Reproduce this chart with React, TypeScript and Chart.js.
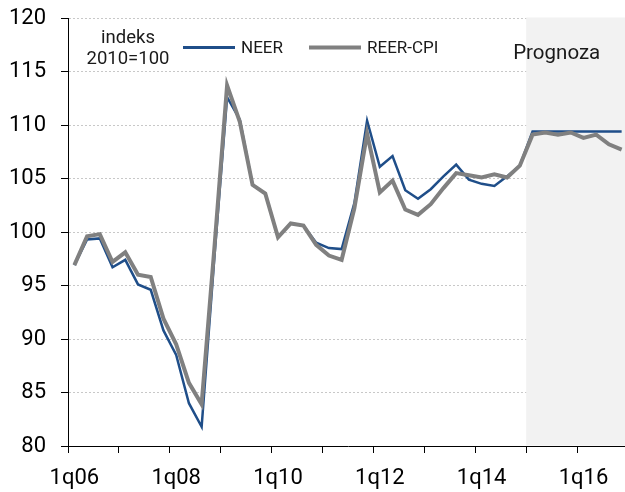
import React, { useEffect, useRef } from 'react';
import { Chart, registerables } from 'chart.js';

Chart.register(...registerables);

const categories = [
  '1q06', '2q06', '3q06', '4q06', '1q07', '2q07', '3q07', '4q07',
  '1q08', '2q08', '3q08', '4q08', '1q09', '2q09', '3q09', '4q09',
  '1q10', '2q10', '3q10', '4q10', '1q11', '2q11', '3q11', '4q11',
  '1q12', '2q12', '3q12', '4q12', '1q13', '2q13', '3q13', '4q13',
  '1q14', '2q14', '3q14', '4q14', '1q15', '2q15', '3q15', '4q15',
  '1q16', '2q16', '3q16', '4q16',
];

const neer = [
  96.9, 99.3, 99.4, 96.7, 97.4, 95.1, 94.6, 90.8,
  88.5, 84.0, 81.8, 97.6, 112.6, 110.5, 104.4, 103.6,
  99.5, 100.8, 100.6, 99.0, 98.5, 98.4, 102.7, 110.4,
  106.1, 107.1, 103.9, 103.1, 104.0, 105.2, 106.3, 104.9,
  104.5, 104.3, 105.2, 106.2, 109.4, 109.4, 109.4, 109.4,
  109.4, 109.4, 109.4, 109.4,
];

const reerCpi = [
  96.9, 99.6, 99.8, 97.2, 98.1, 96.0, 95.8, 91.9,
  89.5, 85.9, 83.9, 98.5, 113.7, 110.3, 104.4, 103.6,
  99.5, 100.8, 100.6, 98.8, 97.8, 97.4, 102.2, 109.2,
  103.7, 104.8, 102.1, 101.6, 102.6, 104.1, 105.5, 105.3,
  105.1, 105.4, 105.1, 106.2, 109.1, 109.3, 109.1, 109.3,
  108.8, 109.1, 108.2, 107.7,
];

const seriesNames = ['NEER', 'REER-CPI'];
const seriesColors = ['#1f4e89', '#808080'];
const seriesWidths = [2.5, 4];
const yMin = 80;
const yMax = 120;
const yStep = 5;
const forecastStart = '1q15';
const forecastLabel = 'Prognoza';
const noteLines = ['indeks', '2010=100'];

const FONT = "Roboto, 'Liberation Sans', sans-serif";

const forecastPlugin = {
  id: 'forecastShade',
  beforeDatasetsDraw(chart: any) {
    const { ctx, chartArea, scales } = chart;
    const x = scales.x;
    const dy = chartArea.top - 18;
    const i = categories.indexOf(forecastStart);
    const left = (x.getPixelForValue(i) + x.getPixelForValue(i - 1)) / 2;
    ctx.save();
    ctx.fillStyle = '#f2f2f2';
    ctx.fillRect(left, chartArea.top - 0.5, chartArea.right - left + 10, chartArea.bottom - chartArea.top);
    ctx.fillStyle = '#1a1a1a';
    ctx.font = `20.5px ${FONT}`;
    ctx.textAlign = 'left';
    ctx.textBaseline = 'alphabetic';
    ctx.fillText(forecastLabel, left - 13, 59 + dy);
    ctx.restore();
  },
};

const legendPlugin = {
  id: 'customLegend',
  afterDraw(chart: any) {
    const { ctx, chartArea } = chart;
    const dy = chartArea.top - 18;
    ctx.save();
    ctx.fillStyle = '#1a1a1a';
    ctx.font = `18.5px ${FONT}`;
    ctx.textAlign = 'center';
    ctx.textBaseline = 'alphabetic';
    ctx.fillText(noteLines[0], 128, 42.5 + dy);
    ctx.fillText(noteLines[1], 128, 64 + dy);
    const lineStarts = [183, 309];
    ctx.font = `17px ${FONT}`;
    ctx.textAlign = 'left';
    seriesNames.forEach((name, k) => {
      const x0 = lineStarts[k];
      ctx.strokeStyle = seriesColors[k];
      ctx.lineWidth = k === 0 ? 3 : 4;
      ctx.beginPath();
      ctx.moveTo(x0, 47.5 + dy);
      ctx.lineTo(x0 + 52, 47.5 + dy);
      ctx.stroke();
      ctx.fillStyle = '#1a1a1a';
      ctx.fillText(name, x0 + 58, 53 + dy);
    });
    ctx.restore();
  },
};

export default function App() {
  const ref = useRef<HTMLCanvasElement | null>(null);

  useEffect(() => {
    if (!ref.current) return;
    Chart.defaults.font.family = FONT;
    const chart = new Chart(ref.current, {
      type: 'line',
      data: {
        labels: categories,
        datasets: [
          {
            label: seriesNames[0],
            data: neer,
            borderColor: seriesColors[0],
            backgroundColor: seriesColors[0],
            borderWidth: seriesWidths[0],
            pointRadius: 0,
            tension: 0,
            fill: false,
            order: 1,
          },
          {
            label: seriesNames[1],
            data: reerCpi,
            borderColor: seriesColors[1],
            backgroundColor: seriesColors[1],
            borderWidth: seriesWidths[1],
            pointRadius: 0,
            tension: 0,
            fill: false,
            order: 0,
          },
        ],
      },
      options: {
        responsive: false,
        animation: false,
        devicePixelRatio: 1,
        layout: { padding: { top: 18, right: 0, left: 0, bottom: 0 } },
        plugins: {
          legend: { display: false },
          tooltip: { enabled: false },
        },
        scales: {
          x: {
            type: 'category',
            offset: true,
            afterFit: (s: any) => { s.height = 46; s.paddingLeft = 0; s.paddingRight = 0; },
            grid: {
              display: true,
              offset: true,
              drawOnChartArea: false,
              drawTicks: true,
              tickLength: 7,
              tickWidth: 1,
              tickColor: (c: any) => (c.index % 4 === 0 ? '#000' : 'rgba(0,0,0,0)'),
            },
            border: { display: true, color: '#000', width: 1 },
            ticks: {
              autoSkip: false,
              maxRotation: 0,
              minRotation: 0,
              padding: 12,
              color: '#000',
              font: { size: 22, family: FONT },
              callback: (_v: any, index: number) => (index % 8 === 0 ? categories[index] : ''),
            },
          },
          y: {
            min: yMin,
            max: yMax,
            afterFit: (s: any) => { s.width = 68; s.paddingTop = 0; s.paddingBottom = 0; },
            grid: {
              color: '#c8c8c8',
              lineWidth: 1,
              drawTicks: true,
              tickLength: 7,
              tickColor: '#000',
              tickWidth: 1,
              tickBorderDash: [],
            },
            border: { display: true, color: '#000', width: 1, dash: [2, 2] },
            ticks: {
              stepSize: yStep,
              padding: 15,
              color: '#000',
              font: { size: 22, family: FONT },
            },
          },
        },
      },
      plugins: [forecastPlugin, legendPlugin],
    } as any);
    return () => chart.destroy();
  }, []);

  return (
    <div style={{ position: 'fixed', left: 0, top: 0, width: 628, height: 492, background: '#fff' }}>
      <canvas ref={ref} width={628} height={492} style={{ display: 'block' }} />
    </div>
  );
}
